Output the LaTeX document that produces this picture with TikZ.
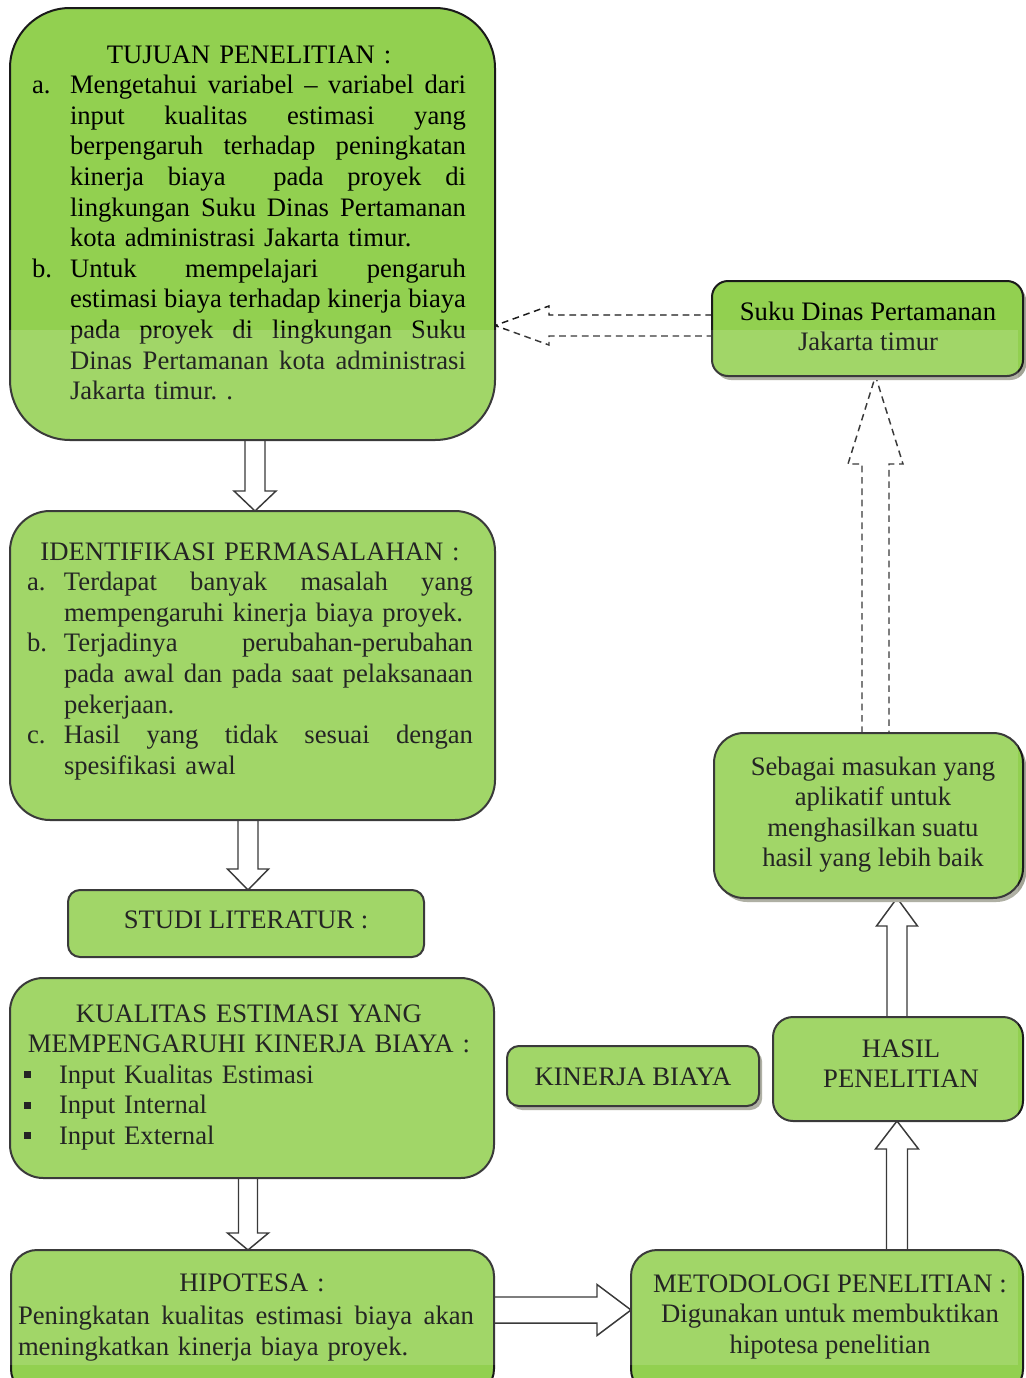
\documentclass[tikz,border=0pt]{standalone}
\usepackage{fontspec}
\setmainfont{Liberation Serif}
\usetikzlibrary{calc,shadows}

\definecolor{boxgreen}{HTML}{92D050}
\definecolor{shadowgray}{HTML}{A3A496}
\definecolor{edge}{HTML}{1A1A1A}

\pgfdeclarelayer{paper}
\pgfdeclarelayer{arrows}
\pgfdeclarelayer{veil}
\pgfsetlayers{paper,arrows,main,veil}

\frenchspacing

% a line of text stretched to a given width (justified line)
\newcommand\spreadline[2]{\leavevmode\hbox to #1{%
  \spaceskip=\fontdimen2\font plus 1fil\relax
  \xspaceskip=\spaceskip #2}}

% vertical block arrow: [style]{from}{to}{centre x}{shaft half width}{head half width}{head length}
\newcommand\vblockarrow[7][]{%
  \draw[blockarrow,#1] let \p1=(#2), \p2=(#3), \n1={(\y2>\y1)?1:-1} in
    ({(#4-#5)*0.75pt},\y1) -- ({(#4-#5)*0.75pt},{\y2-\n1*#7*0.75pt})
    -- ({(#4-#6)*0.75pt},{\y2-\n1*#7*0.75pt}) -- ({#4*0.75pt},\y2)
    -- ({(#4+#6)*0.75pt},{\y2-\n1*#7*0.75pt}) -- ({(#4+#5)*0.75pt},{\y2-\n1*#7*0.75pt})
    -- ({(#4+#5)*0.75pt},\y1);
}
% horizontal block arrow: [style]{from}{to}{centre y}{shaft half width}{head half width}{head length}
\newcommand\hblockarrow[7][]{%
  \draw[blockarrow,#1] let \p1=(#2), \p2=(#3), \n1={(\x2>\x1)?1:-1} in
    (\x1,{-(#4-#5)*0.75pt}) -- ({\x2-\n1*#7*0.75pt},{-(#4-#5)*0.75pt})
    -- ({\x2-\n1*#7*0.75pt},{-(#4-#6)*0.75pt}) -- (\x2,{-#4*0.75pt})
    -- ({\x2-\n1*#7*0.75pt},{-(#4+#6)*0.75pt}) -- ({\x2-\n1*#7*0.75pt},{-(#4+#5)*0.75pt})
    -- (\x1,{-(#4+#5)*0.75pt});
}

\tikzset{
  stage/.style={draw=edge, line width=1.5pt, fill=boxgreen, inner sep=0pt, outer sep=0pt, rounded corners=#1},
  stage/.default=12pt,
  lifted/.style={drop shadow={shadow xshift=2.4pt, shadow yshift=-3pt, fill=shadowgray, opacity=1}},
  words/.style={inner sep=0pt, outer sep=0pt, font=\fontsize{20pt}{22.95pt}\selectfont},
  blockarrow/.style={draw=edge, line width=1.1pt, fill=white, line join=miter},
  hollowdash/.style={dash pattern=on 5pt off 3.5pt},
}

\begin{document}
\begin{tikzpicture}[x=0.75pt,y=-0.75pt]
\useasboundingbox (0,0) rectangle (1025,1378);
\begin{pgfonlayer}{paper}
  \fill[white] (0,0) rectangle (1025,1378);
\end{pgfonlayer}

% ---- boxes ----
\node[stage=45pt, minimum width=363.75pt, minimum height=324pt] (tuj) at (252.5,224) {};
\node[stage=30pt, minimum width=363.75pt, minimum height=231.75pt] (idf) at (252.5,665.5) {};
\node[stage=9pt, minimum width=267pt, minimum height=50.25pt] (stu) at (246,923.5) {};
\node[stage=25pt, minimum width=363pt, minimum height=150pt] (kua) at (252,1078) {};
\node[stage=19.5pt, minimum width=362.25pt, minimum height=108.75pt] (hip) at (252.5,1322.5) {};
\node[stage=19.5pt, minimum width=294pt, minimum height=108.75pt] (met) at (827,1322.5) {};
\node[stage=12pt, lifted, minimum width=233.25pt, minimum height=71.25pt] (suk) at (867.5,328.5) {};
\node[stage=22.5pt, lifted, minimum width=231.75pt, minimum height=123.75pt] (seb) at (868.5,815.5) {};
\node[stage=15pt, minimum width=187.5pt, minimum height=78pt] (has) at (898,1069) {};
\node[stage=9pt, lifted, minimum width=189pt, minimum height=45pt] (kin) at (633,1076) {};

% ---- block arrows ----
\begin{pgfonlayer}{arrows}
  \vblockarrow{tuj.south}{idf.north}{255}{10}{21}{20}
  \vblockarrow{idf.south}{stu.north}{248}{10}{20.5}{21}
  \vblockarrow{kua.south}{hip.north}{248}{9.5}{20.5}{17}
  \hblockarrow{hip.east}{met.west}{1310}{13}{25.5}{34}
  \vblockarrow{met.north}{has.south}{897}{10.5}{21.5}{28}
  \vblockarrow{has.north}{seb.south}{897}{10}{20.5}{28}
  \vblockarrow[hollowdash]{seb.north}{suk.south}{875.5}{13.5}{27.5}{88}
  \hblockarrow[hollowdash]{suk.west}{tuj.east}{325.5}{10.5}{19.5}{54}
\end{pgfonlayer}

% ---- texts ----
\node[words, text width=325.5pt, align=left, anchor=north west] (tujtext) at (32,41.6) {%
\makebox[\linewidth]{\strut TUJUAN PENELITIAN :}\\
\makebox[28.5pt][l]{a.}\spreadline{297pt}{Mengetahui variabel -- variabel dari}\\
\hspace*{28.5pt}\spreadline{297pt}{input kualitas estimasi yang}\\
\hspace*{28.5pt}\spreadline{297pt}{berpengaruh terhadap peningkatan}\\
\hspace*{28.5pt}\spreadline{297pt}{kinerja biaya\ \ pada proyek di}\\
\hspace*{28.5pt}\spreadline{297pt}{lingkungan Suku Dinas Pertamanan}\\
\hspace*{28.5pt}kota administrasi Jakarta timur.\\
\makebox[28.5pt][l]{b.}\spreadline{297pt}{Untuk mempelajari pengaruh}\\
\hspace*{28.5pt}\spreadline{297pt}{estimasi biaya terhadap kinerja biaya}\\
\hspace*{28.5pt}\spreadline{297pt}{pada proyek di lingkungan Suku}\\
\hspace*{28.5pt}\spreadline{297pt}{Dinas Pertamanan kota administrasi}\\
\hspace*{28.5pt}Jakarta timur. .};

\node[words, text width=334.5pt, align=left, anchor=north west] (idftext) at (27,538.6) {%
\makebox[\linewidth]{\strut IDENTIFIKASI PERMASALAHAN :}\\
\makebox[27.75pt][l]{a.}\spreadline{306.75pt}{Terdapat banyak masalah yang}\\
\hspace*{27.75pt}mempengaruhi kinerja biaya proyek.\\
\makebox[27.75pt][l]{b.}\spreadline{306.75pt}{Terjadinya perubahan-perubahan}\\
\hspace*{27.75pt}\spreadline{306.75pt}{pada awal dan pada saat pelaksanaan}\\
\hspace*{27.75pt}pekerjaan.\\
\makebox[27.75pt][l]{c.}\spreadline{306.75pt}{Hasil yang tidak sesuai dengan}\\
\hspace*{27.75pt}spesifikasi awal};

\node[words, anchor=base] (stutext) at (246,928) {STUDI LITERATUR :};

\node[words, text width=337.5pt, align=left, anchor=north west] (kuatext) at (24,1000.6) {%
\makebox[\linewidth]{\strut KUALITAS ESTIMASI YANG}\\
\makebox[\linewidth]{MEMPENGARUHI KINERJA BIAYA :}\\
\makebox[26.25pt][l]{\raisebox{3.8pt}{\rule{5.25pt}{5.25pt}}}Input Kualitas Estimasi\\
\makebox[26.25pt][l]{\raisebox{3.8pt}{\rule{5.25pt}{5.25pt}}}Input Internal\\
\makebox[26.25pt][l]{\raisebox{3.8pt}{\rule{5.25pt}{5.25pt}}}Input External};

\node[words, text width=342pt, align=left, anchor=north west] (hiptext) at (18,1269.6) {%
\makebox[\linewidth]{\strut\hspace*{9pt}HIPOTESA :}\\[2.5pt]
\spreadline{342pt}{Peningkatan kualitas estimasi biaya akan}\\
meningkatkan kinerja biaya proyek.};

\node[words, align=center, anchor=north] (mettext) at (830,1270.6) {%
\strut METODOLOGI PENELITIAN :\\
Digunakan untuk membuktikan\\
hipotesa penelitian};

\node[words, align=center, anchor=north] (suktext) at (868,298.6) {%
\strut Suku Dinas Pertamanan\\
Jakarta timur};

\node[words, align=center, anchor=north] (sebtext) at (873,753.6) {%
\strut Sebagai masukan yang\\
aplikatif untuk\\
menghasilkan suatu\\
hasil yang lebih baik};

\node[words, align=center, anchor=north] (hastext) at (901,1035.6) {%
\strut HASIL\\
PENELITIAN};

\node[words, anchor=base] (kintext) at (633,1085) {KINERJA BIAYA};

% light sheen over the middle of the sheet
\begin{pgfonlayer}{veil}
  \fill[white, opacity=0.14] (0,330) rectangle (1018,1365);
\end{pgfonlayer}
\end{tikzpicture}
\end{document}
